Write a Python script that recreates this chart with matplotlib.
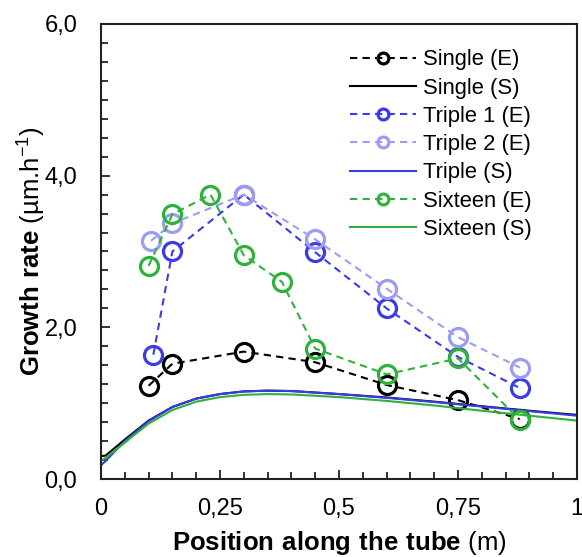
import matplotlib.pyplot as plt
from matplotlib.ticker import MultipleLocator, FuncFormatter

plt.rcParams["font.family"] = ["Liberation Sans", "DejaVu Sans"]
plt.rcParams["mathtext.fontset"] = "custom"
plt.rcParams["mathtext.rm"] = "Liberation Sans"
plt.rcParams["mathtext.bf"] = "Liberation Sans:bold"

# ---------------------------------------------------------------------
# Experimental growth rates (E)
# ---------------------------------------------------------------------
single_e_x = [0.10, 0.15, 0.30, 0.45, 0.60, 0.75, 0.88]
single_e_y = [1.23, 1.52, 1.68, 1.54, 1.24, 1.04, 0.79]

triple1_e_x = [0.11, 0.15, 0.30, 0.45, 0.60, 0.75, 0.88]
triple1_e_y = [1.64, 3.00, 3.75, 2.99, 2.25, 1.61, 1.20]

triple2_e_x = [0.105, 0.15, 0.30, 0.45, 0.60, 0.75, 0.88]
triple2_e_y = [3.14, 3.37, 3.75, 3.16, 2.51, 1.87, 1.47]

sixteen_e_x = [0.10, 0.15, 0.23, 0.30, 0.38, 0.45, 0.60, 0.75, 0.88]
sixteen_e_y = [2.81, 3.49, 3.75, 2.95, 2.60, 1.72, 1.38, 1.59, 0.78]

# ---------------------------------------------------------------------
# Simulated growth rates (S)
# ---------------------------------------------------------------------
sim_x = [0.0, 0.01, 0.05, 0.10, 0.15, 0.20, 0.25, 0.30, 0.35, 0.40,
         0.50, 0.60, 0.70, 0.80, 0.90, 1.00]
single_s_y = [0.30, 0.31, 0.52, 0.77, 0.95, 1.06, 1.12, 1.155, 1.165, 1.16,
              1.12, 1.075, 1.02, 0.96, 0.90, 0.845]
triple_s_y = [0.18, 0.24, 0.50, 0.76, 0.95, 1.06, 1.12, 1.155, 1.165, 1.16,
              1.12, 1.07, 1.015, 0.955, 0.895, 0.835]
sixteen_s_y = [0.24, 0.28, 0.48, 0.73, 0.91, 1.02, 1.08, 1.11, 1.12, 1.115,
               1.08, 1.03, 0.97, 0.90, 0.835, 0.77]

BLACK = "#000000"
BLUE = "#3b3bea"
LIGHT_BLUE = "#9c9cf4"
GREEN = "#2eb23c"

fig = plt.figure(figsize=(5.82, 5.57), dpi=100)
ax = fig.add_axes([0.1735, 0.140, 0.8179, 0.817])

dash = (0, (3.5, 2.5))
exp_style = dict(linestyle=dash, linewidth=1.5, marker="o", markersize=13,
                 markerfacecolor="none", markeredgewidth=2.3)
sim_style = dict(linestyle="-", linewidth=1.5)

ax.plot(single_e_x, single_e_y, color=BLACK, markeredgecolor=BLACK,
        label="Single (E)", **exp_style)
ax.plot(sim_x, single_s_y, color=BLACK, label="Single (S)", **sim_style)
ax.plot(triple1_e_x, triple1_e_y, color=BLUE, markeredgecolor=BLUE,
        label="Triple 1 (E)", **exp_style)
ax.plot(triple2_e_x, triple2_e_y, color=LIGHT_BLUE, markeredgecolor=LIGHT_BLUE,
        label="Triple 2 (E)", **exp_style)
ax.plot(sim_x, triple_s_y, color=BLUE, label="Triple (S)", **sim_style)
ax.plot(sixteen_e_x, sixteen_e_y, color=GREEN, markeredgecolor=GREEN,
        label="Sixteen (E)", **exp_style)
ax.plot(sim_x, sixteen_s_y, color=GREEN, label="Sixteen (S)", **sim_style)

ax.set_xlim(0, 1)
ax.set_ylim(0, 6)

ax.xaxis.set_major_locator(MultipleLocator(0.25))
ax.xaxis.set_minor_locator(MultipleLocator(0.05))
ax.yaxis.set_major_locator(MultipleLocator(2.0))
ax.yaxis.set_minor_locator(MultipleLocator(0.25))


def comma_x(v, pos):
    if abs(v) < 1e-9:
        return "0"
    if abs(v - 1) < 1e-9:
        return "1"
    return f"{v:g}".replace(".", ",")


ax.xaxis.set_major_formatter(FuncFormatter(comma_x))
ax.yaxis.set_major_formatter(FuncFormatter(lambda v, p: f"{v:.1f}".replace(".", ",")))

ax.tick_params(axis="both", which="both", direction="in", top=False, right=False,
               width=1.3, colors="#222222", labelcolor="black")
ax.tick_params(axis="both", which="major", length=6.5, labelsize=17)
ax.tick_params(axis="both", which="minor", length=5)
ax.tick_params(axis="y", which="major", pad=17)
ax.tick_params(axis="x", which="major", pad=14)

for sp in ax.spines.values():
    sp.set_linewidth(1.5)
    sp.set_color("#222222")

ax.set_xlabel(r"$\bf{Position\ along\ the\ tube}$ (m)", fontsize=18.5, labelpad=6.5)
ax.set_ylabel(r"$\bf{Growth\ rate}$ (µm.h$^{-1}$)", fontsize=18.5, labelpad=-2)

leg = ax.legend(loc="upper left", bbox_to_anchor=(0.523, 0.944), frameon=False,
                fontsize=15.8, handlelength=3.0, handletextpad=0.35,
                labelspacing=0.33, borderpad=0, borderaxespad=0,
                markerscale=0.6)

fig.savefig("out.png", dpi=100)
